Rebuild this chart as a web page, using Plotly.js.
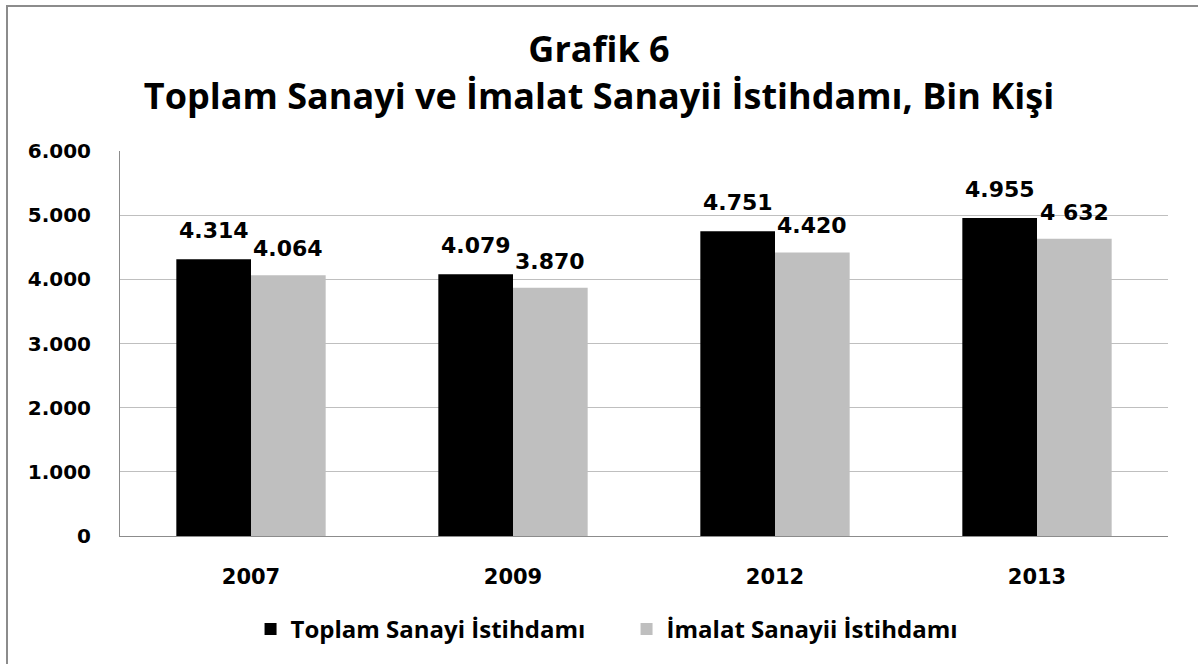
<!DOCTYPE html>
<html><head><meta charset="utf-8">
<script src="https://cdn.plot.ly/plotly-3.0.1.min.js"></script>
<style>
html,body{margin:0;padding:0;background:#fff;}
#wrap{position:relative;width:1198px;height:664px;overflow:hidden;}
#chart{width:1198px;height:664px;}
#frame{position:absolute;left:6px;top:5px;width:1300px;height:800px;border-left:2px solid #8c8c8c;border-top:2px solid #8c8c8c;pointer-events:none;}
</style></head>
<body><div id="wrap"><div id="chart"></div><div id="frame"></div></div>
<script>
const years = ['2007', '2009', '2012', '2013'];
const toplam = [4314, 4079, 4751, 4955];
const imalat = [4064, 3870, 4420, 4632];
const toplamLabels = ['4.314', '4.079', '4.751', '4.955'];
const imalatLabels = ['4.064', '3.870', '4.420', '4 632'];
const yTicks = [0, 1000, 2000, 3000, 4000, 5000, 6000];

const BARGAP = 0.43;
const half = (1 - BARGAP) / 4; // center offset of each bar within group
const labelFont = {family: 'DejaVu Sans', size: 22, color: '#000', weight: 'bold'};

const data = [
  {type: 'bar', name: 'Toplam Sanayi İstihdamı', x: years, y: toplam,
   marker: {color: '#000000'}, hoverinfo: 'none'},
  {type: 'bar', name: 'İmalat Sanayii İstihdamı', x: years, y: imalat,
   marker: {color: '#bfbfbf'}, hoverinfo: 'none'}
];

const annotations = [];
years.forEach((yr, i) => {
  annotations.push({x: i - half, y: toplam[i], xref: 'x', yref: 'y', text: toplamLabels[i],
    showarrow: false, yanchor: 'bottom', xanchor: 'center', yshift: 14, font: labelFont});
  annotations.push({x: i + half, y: imalat[i], xref: 'x', yref: 'y', text: imalatLabels[i],
    showarrow: false, yanchor: 'bottom', xanchor: 'center', yshift: 12, font: labelFont});
});

const layout = {
  width: 1198, height: 664,
  margin: {l: 120, r: 30, t: 151, b: 128},
  paper_bgcolor: '#fff', plot_bgcolor: '#fff',
  separators: ',.',
  barmode: 'group', bargap: BARGAP, bargroupgap: 0,
  title: {text: 'Grafik 6<br>Toplam Sanayi ve İmalat Sanayii İstihdamı, Bin Kişi',
    font: {family: 'Open Sans', size: 36, color: '#000', weight: 'bold'},
    x: 0.5, xanchor: 'center', y: 0.907, yanchor: 'top'},
  xaxis: {type: 'category', showgrid: false, showline: true, linecolor: '#8c8c8c', linewidth: 1,
    ticks: '', ticklabelstandoff: 22,
    tickfont: {family: 'DejaVu Sans', size: 21, color: '#000', weight: 'bold'}},
  yaxis: {range: [0, 6000], tickvals: yTicks, tickformat: ',d', showgrid: true, gridcolor: '#bfbfbf',
    showline: true, linecolor: '#8c8c8c', linewidth: 1, zeroline: false, ticks: '',
    ticklabelstandoff: 24,
    tickfont: {family: 'DejaVu Sans', size: 20, color: '#000', weight: 'bold'}},
  annotations: annotations,
  showlegend: true,
  legend: {orientation: 'h', xref: 'container', yref: 'container', x: 0.523, xanchor: 'center',
    y: 0.052, yanchor: 'middle', font: {family: 'Open Sans', size: 24, color: '#000', weight: 'bold'},
    itemwidth: 30, entrywidth: 331, traceorder: 'normal'}
};

Plotly.newPlot('chart', data, layout, {staticPlot: true, displayModeBar: false});
</script></body></html>
